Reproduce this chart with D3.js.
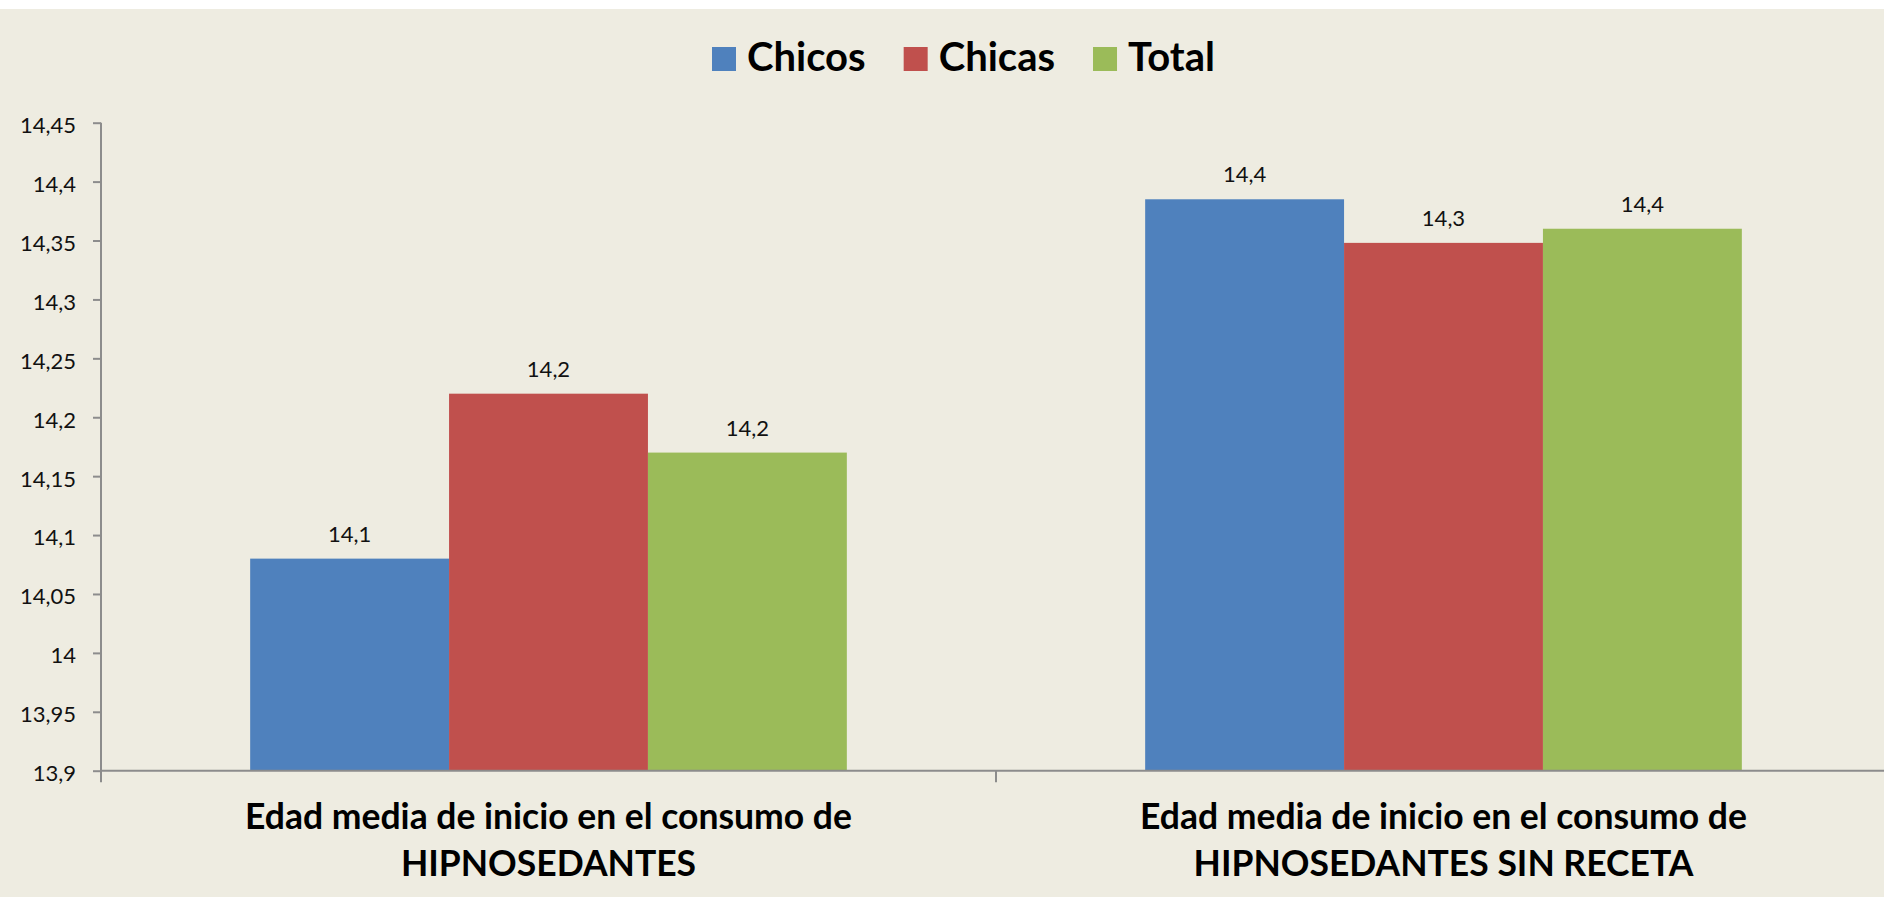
<!DOCTYPE html>
<html lang="es">
<head>
<meta charset="utf-8">
<title>Edad media de inicio en el consumo de hipnosedantes</title>
<script src="https://cdn.jsdelivr.net/npm/d3@7"></script>
<style>
  html, body { margin: 0; padding: 0; background: #ffffff; }
  svg { display: block; }
</style>
</head>
<body>
<svg id="chart" width="1884" height="897"></svg>
<script>
// Categories (each label split in two lines)
const categories = [
  ["Edad media de inicio en el consumo de", "HIPNOSEDANTES"],
  ["Edad media de inicio en el consumo de", "HIPNOSEDANTES SIN RECETA"]
];
const seriesNames = ["Chicos", "Chicas", "Total"];
const seriesColors = ["#4F81BD", "#C0504D", "#9BBB59"];

// Mean age of first use, one value per category
const chicos = [14.08, 14.385];
const chicas = [14.22, 14.348];
const total  = [14.17, 14.36];

// Axis ticks and their printed labels
const yTicks = [13.9, 13.95, 14, 14.05, 14.1, 14.15, 14.2, 14.25, 14.3, 14.35, 14.4, 14.45];
const yTickLabels = ["13,9", "13,95", "14", "14,05", "14,1", "14,15", "14,2", "14,25", "14,3", "14,35", "14,4", "14,45"];

const seriesValues = [chicos, chicas, total];

const svg = d3.select("#chart");
const W = 1884, H = 897;

// Background panel
svg.append("rect")
  .attr("x", 0).attr("y", 9)
  .attr("width", W).attr("height", H - 9)
  .attr("fill", "#EEECE1");

const plot = { left: 101, right: 1891, top: 122.7, bottom: 770.7 };
const axisColor = "#8c8c8c";

const catIds = categories.map((d, i) => i);
const x0 = d3.scaleBand().domain(catIds).range([plot.left, plot.right]).paddingInner(0).paddingOuter(0);
const x1 = d3.scaleBand().domain(seriesNames).range([0, x0.bandwidth()]).paddingInner(0).paddingOuter(0.75);
const y = d3.scaleLinear().domain([13.9, 14.45]).range([plot.bottom, plot.top]);

const fmt = v => d3.format(".1f")(v).replace(".", ",");

// Bars
const groups = svg.append("g").selectAll("g")
  .data(catIds)
  .join("g")
  .attr("transform", i => `translate(${x0(i)},0)`);

groups.selectAll("rect")
  .data(i => seriesNames.map((s, k) => ({ s, k, v: seriesValues[k][i] })))
  .join("rect")
  .attr("x", d => x1(d.s))
  .attr("width", x1.bandwidth())
  .attr("y", d => y(d.v))
  .attr("height", d => plot.bottom - y(d.v))
  .attr("fill", d => seriesColors[d.k]);

// Value labels above bars
groups.selectAll("text.val")
  .data(i => seriesNames.map((s, k) => ({ s, k, v: seriesValues[k][i] })))
  .join("text")
  .attr("class", "val")
  .attr("x", d => x1(d.s) + x1.bandwidth() / 2)
  .attr("y", d => y(d.v) - 17)
  .attr("text-anchor", "middle")
  .attr("font-family", "Lato, 'DejaVu Sans', sans-serif")
  .attr("font-size", 22)
  .attr("fill", "#111")
  .text(d => fmt(d.v));

// Y axis
const yAxis = d3.axisLeft(y)
  .tickValues(yTicks)
  .tickSize(8)
  .tickPadding(17)
  .tickFormat((d, i) => yTickLabels[i]);

const gy = svg.append("g")
  .attr("transform", `translate(${plot.left},0)`)
  .call(yAxis);
gy.select(".domain").remove();
gy.selectAll(".tick line").attr("stroke", axisColor).attr("stroke-width", 2);
gy.selectAll(".tick text")
  .attr("font-family", "Lato, 'DejaVu Sans', sans-serif")
  .attr("font-size", 22)
  .attr("fill", "#111")
  .attr("dy", "0.45em");
gy.append("line")
  .attr("x1", 0).attr("x2", 0)
  .attr("y1", plot.top).attr("y2", plot.bottom + 11.5)
  .attr("stroke", axisColor).attr("stroke-width", 2);

// X axis
const gx = svg.append("g").attr("transform", `translate(0,${plot.bottom})`);
gx.append("line")
  .attr("x1", plot.left).attr("x2", W)
  .attr("stroke", axisColor).attr("stroke-width", 2);
gx.selectAll("line.tick")
  .data(catIds.slice(1))
  .join("line")
  .attr("class", "tick")
  .attr("x1", i => x0(i)).attr("x2", i => x0(i))
  .attr("y1", 0).attr("y2", 11.5)
  .attr("stroke", axisColor).attr("stroke-width", 2);

// Category labels
const catLabels = svg.append("g").selectAll("text")
  .data(catIds)
  .join("text")
  .attr("text-anchor", "middle")
  .attr("font-family", "Lato, 'Open Sans', sans-serif")
  .attr("font-weight", "bold")
  .attr("font-size", 35.5)
  .attr("fill", "#000");
catLabels.each(function(i) {
  const t = d3.select(this);
  categories[i].forEach((line, j) => {
    t.append("tspan")
      .attr("x", x0(i) + x0.bandwidth() / 2)
      .attr("y", 829 + j * 46.5)
      .text(line);
  });
});

// Legend
const legend = svg.append("g");
let lx = 712;
seriesNames.forEach((name, k) => {
  legend.append("rect")
    .attr("x", lx).attr("y", 47)
    .attr("width", 24).attr("height", 24)
    .attr("fill", seriesColors[k]);
  const t = legend.append("text")
    .attr("x", lx + 35).attr("y", 71)
    .attr("font-family", "Lato, 'Open Sans', sans-serif")
    .attr("font-weight", "bold")
    .attr("font-size", 40)
    .attr("fill", "#000")
    .text(name);
  lx += 35 + t.node().getComputedTextLength() + 38;
});
</script>
</body>
</html>
